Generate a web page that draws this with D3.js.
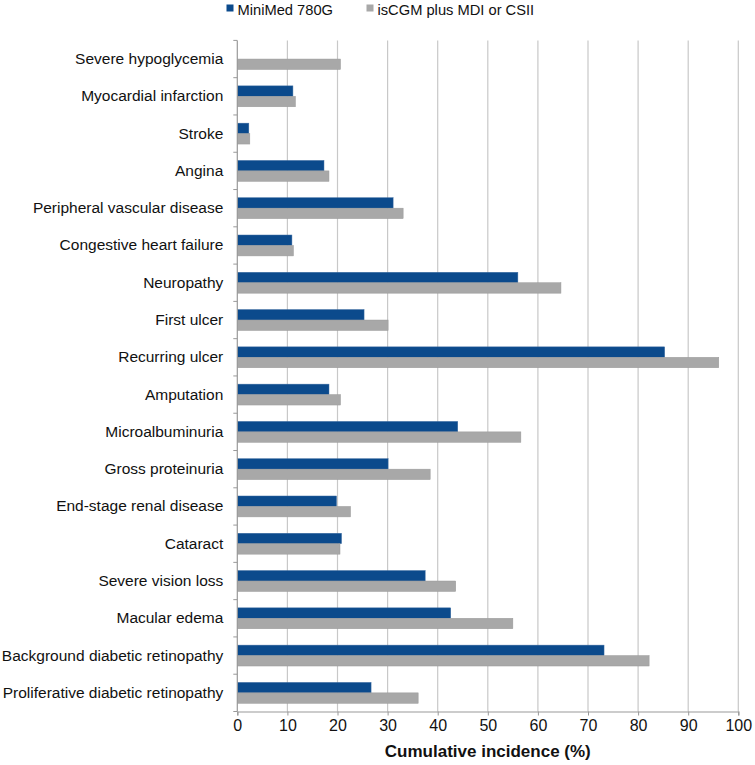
<!DOCTYPE html>
<html><head><meta charset="utf-8">
<script src="https://cdn.jsdelivr.net/npm/d3@7"></script>
<style>body{margin:0;background:#fff;}svg{display:block;font-family:"Liberation Sans",Arial,sans-serif;}</style>
</head><body><svg id="c" width="755" height="765"></svg>
<script>
const categories = ["Severe hypoglycemia","Myocardial infarction","Stroke","Angina","Peripheral vascular disease","Congestive heart failure","Neuropathy","First ulcer","Recurring ulcer","Amputation","Microalbuminuria","Gross proteinuria","End-stage renal disease","Cataract","Severe vision loss","Macular edema","Background diabetic retinopathy","Proliferative diabetic retinopathy"];
const seriesNames = ["MiniMed 780G","isCGM plus MDI or CSII"];
const minimed = [0,11.1,2.3,17.3,31.1,10.9,56.0,25.3,85.3,18.3,44.0,30.1,19.8,20.8,37.5,42.6,73.2,26.7];
const iscgm = [20.6,11.6,2.5,18.3,33.1,11.2,64.6,30.1,96.1,20.6,56.6,38.5,22.6,20.5,43.6,55.0,82.2,36.1];
const xTicks = [0,10,20,30,40,50,60,70,80,90,100];
const colors = ["#0b4a8c","#a8a8a8"];

const svg = d3.select("#c");
const L = 237.3, R = 738.3, T = 40.4, B = 711.5;
const x = d3.scaleLinear().domain([0,100]).range([L,R]);
const y = d3.scaleBand().domain(categories).range([T,B]).paddingInner(0.44).paddingOuter(0.22);
const sub = d3.scaleBand().domain([0,1]).range([0,y.bandwidth()]);

// gridlines
svg.append("g").selectAll("line").data(xTicks.slice(1)).join("line")
  .attr("x1",d=>x(d)).attr("x2",d=>x(d)).attr("y1",T).attr("y2",B)
  .attr("stroke","#c8c8c8").attr("stroke-width",1.2);

// bars
const g = svg.append("g");
categories.forEach((c,i)=>{
  [minimed[i], iscgm[i]].forEach((v,j)=>{
    if(v<=0) return;
    g.append("rect").attr("x",x(0)).attr("y",y(c)+sub(j)).attr("width",x(v)-x(0)).attr("height",sub.bandwidth())
      .attr("fill",colors[j]).attr("stroke", j===0?"#3a6aa0":"#9a9a9a").attr("stroke-width",0.5);
  });
});

// y axis
const yAxis = d3.axisLeft(y).tickSize(0).tickPadding(14);
const ya = svg.append("g").attr("transform",`translate(${L},0)`).call(yAxis);
ya.select(".domain").remove();
ya.selectAll("text").attr("font-size","15.5px").attr("fill","#111");
// band boundary ticks
const bounds = categories.map((c,i)=> T + i*(B-T)/categories.length).concat([B]);
svg.append("g").selectAll("line").data(bounds).join("line")
  .attr("x1",L-4).attr("x2",L).attr("y1",d=>d).attr("y2",d=>d).attr("stroke","#999");
svg.append("line").attr("x1",L).attr("x2",L).attr("y1",T).attr("y2",B).attr("stroke","#999").attr("stroke-width",1.2);

// x axis
const xa = svg.append("g").attr("transform",`translate(0,${B})`).call(d3.axisBottom(x).tickValues(xTicks).tickSize(4).tickPadding(4));
xa.select(".domain").attr("stroke","#999").attr("stroke-width",1.2);
xa.selectAll(".tick line").attr("stroke","#999");
xa.selectAll("text").attr("font-size","16px").attr("fill","#111");

svg.append("text").attr("x",(L+R)/2).attr("y",757).attr("text-anchor","middle")
  .attr("font-size","17px").attr("font-weight","bold").attr("fill","#111").text("Cumulative incidence (%)");

// legend
const leg = svg.append("g");
const legX = [226.5, 366.5];
seriesNames.forEach((n,j)=>{
  leg.append("rect").attr("x",legX[j]).attr("y",4.5).attr("width",7).attr("height",7).attr("fill",colors[j]);
  leg.append("text").attr("x",legX[j]+11).attr("y",14.5).attr("font-size","14.7px").attr("fill","#111").text(n);
});
</script></body></html>
